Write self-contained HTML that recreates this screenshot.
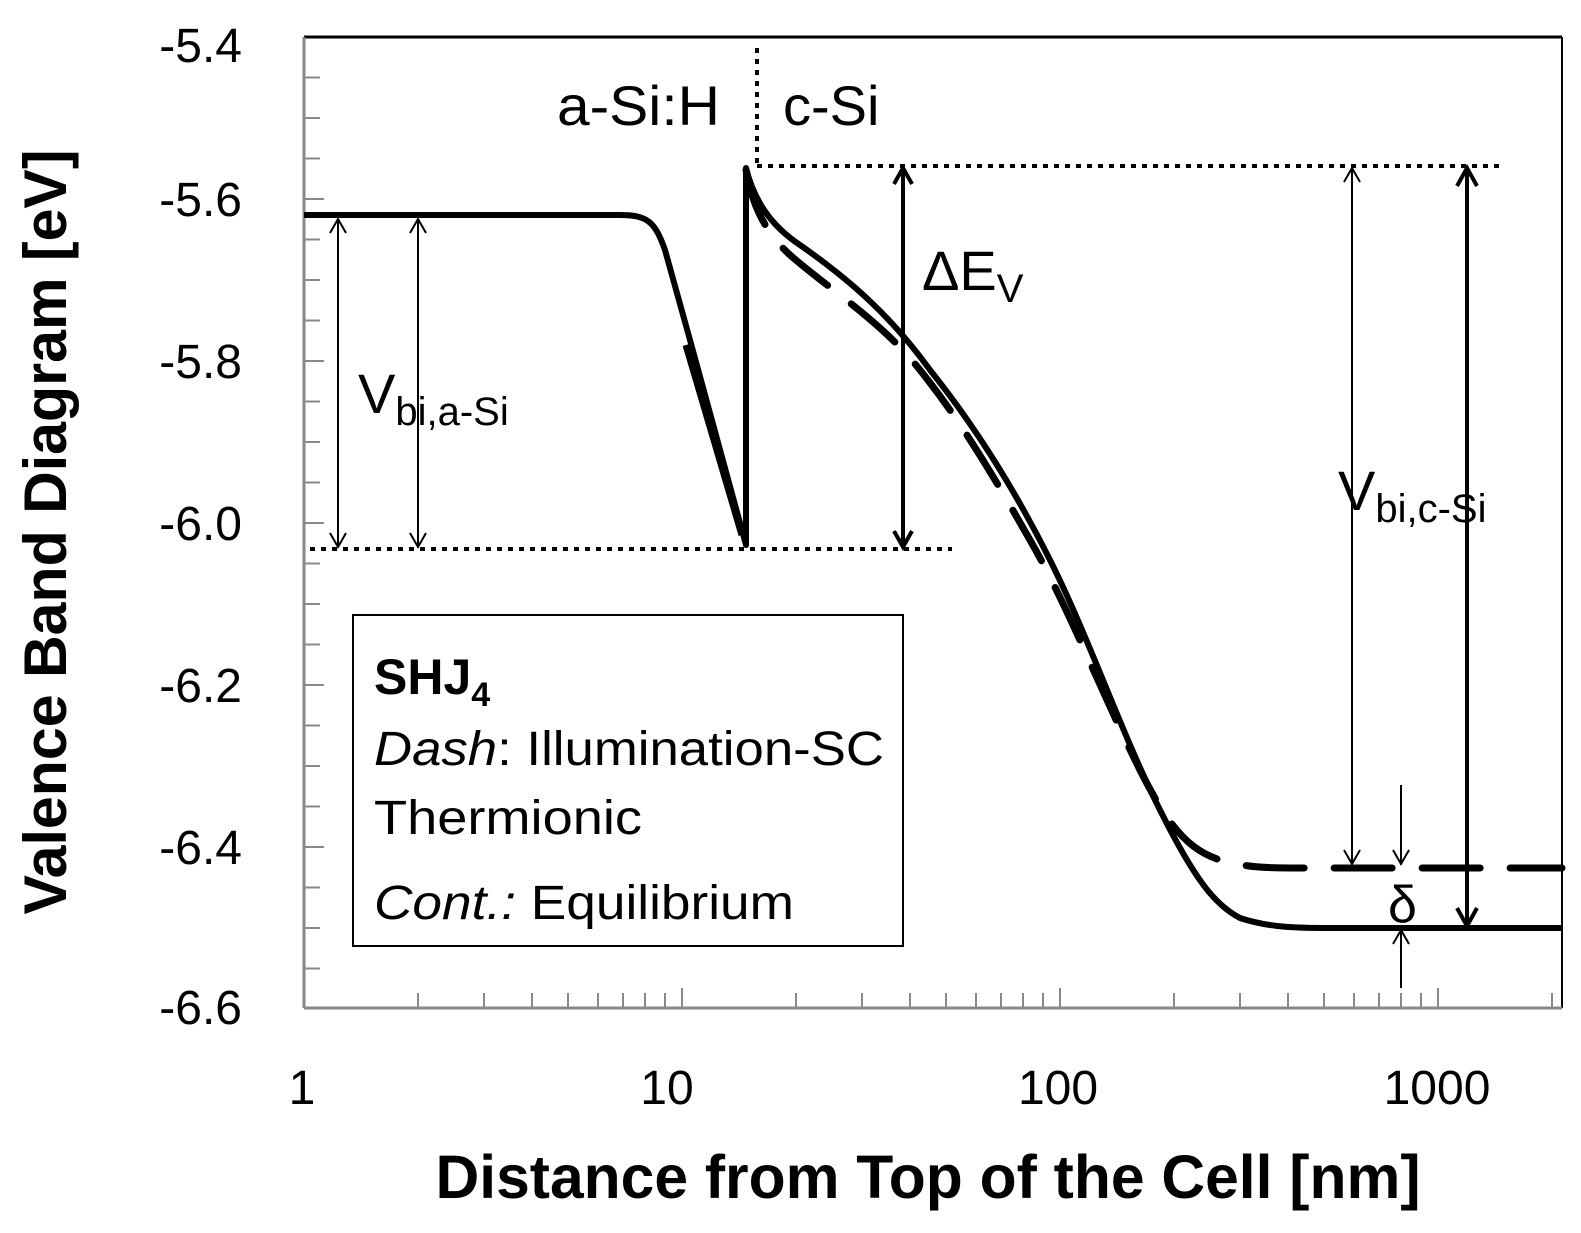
<!DOCTYPE html>
<html><head><meta charset="utf-8"><style>
html,body{margin:0;padding:0;background:#fff}
svg{display:block}
text{font-family:"Liberation Sans",sans-serif;fill:#000}
</style></head><body>
<svg width="1581" height="1233" viewBox="0 0 1581 1233" xmlns="http://www.w3.org/2000/svg">
<!-- frame -->
<line x1="304" y1="37" x2="1562" y2="37" stroke="#000" stroke-width="3"/>
<line x1="1562" y1="37" x2="1562" y2="1008" stroke="#000" stroke-width="2"/>
<line x1="304" y1="37" x2="304" y2="1008" stroke="#888" stroke-width="3"/>
<line x1="304" y1="1008" x2="1562" y2="1008" stroke="#888" stroke-width="3"/>
<!-- y ticks -->
<g stroke="#888" stroke-width="2">
<line x1="304" y1="77.5" x2="320" y2="77.5"/><line x1="304" y1="118" x2="320" y2="118"/><line x1="304" y1="158.5" x2="320" y2="158.5"/><line x1="304" y1="199" x2="324" y2="199"/>
<line x1="304" y1="239.5" x2="320" y2="239.5"/><line x1="304" y1="280" x2="320" y2="280"/><line x1="304" y1="320.5" x2="320" y2="320.5"/><line x1="304" y1="361" x2="324" y2="361"/>
<line x1="304" y1="401.5" x2="320" y2="401.5"/><line x1="304" y1="442" x2="320" y2="442"/><line x1="304" y1="482.5" x2="320" y2="482.5"/><line x1="304" y1="523" x2="324" y2="523"/>
<line x1="304" y1="563.5" x2="320" y2="563.5"/><line x1="304" y1="604" x2="320" y2="604"/><line x1="304" y1="644.5" x2="320" y2="644.5"/><line x1="304" y1="685" x2="324" y2="685"/>
<line x1="304" y1="725.5" x2="320" y2="725.5"/><line x1="304" y1="766" x2="320" y2="766"/><line x1="304" y1="806.5" x2="320" y2="806.5"/><line x1="304" y1="847" x2="324" y2="847"/>
<line x1="304" y1="887.5" x2="320" y2="887.5"/><line x1="304" y1="928" x2="320" y2="928"/><line x1="304" y1="968.5" x2="320" y2="968.5"/>
</g>
<!-- x ticks -->
<g stroke="#888" stroke-width="2">
<line x1="418" y1="1008" x2="418" y2="993"/><line x1="484" y1="1008" x2="484" y2="993"/><line x1="532" y1="1008" x2="532" y2="993"/><line x1="568" y1="1008" x2="568" y2="993"/><line x1="598" y1="1008" x2="598" y2="993"/><line x1="623" y1="1008" x2="623" y2="993"/><line x1="645" y1="1008" x2="645" y2="993"/><line x1="665" y1="1008" x2="665" y2="993"/><line x1="682" y1="1008" x2="682" y2="988"/>
<line x1="796" y1="1008" x2="796" y2="993"/><line x1="862" y1="1008" x2="862" y2="993"/><line x1="910" y1="1008" x2="910" y2="993"/><line x1="946" y1="1008" x2="946" y2="993"/><line x1="976" y1="1008" x2="976" y2="993"/><line x1="1001" y1="1008" x2="1001" y2="993"/><line x1="1023" y1="1008" x2="1023" y2="993"/><line x1="1043" y1="1008" x2="1043" y2="993"/><line x1="1060" y1="1008" x2="1060" y2="988"/>
<line x1="1174" y1="1008" x2="1174" y2="993"/><line x1="1240" y1="1008" x2="1240" y2="993"/><line x1="1288" y1="1008" x2="1288" y2="993"/><line x1="1324" y1="1008" x2="1324" y2="993"/><line x1="1354" y1="1008" x2="1354" y2="993"/><line x1="1379" y1="1008" x2="1379" y2="993"/><line x1="1401" y1="1008" x2="1401" y2="993"/><line x1="1421" y1="1008" x2="1421" y2="993"/><line x1="1438" y1="1008" x2="1438" y2="988"/>
<line x1="1552" y1="1008" x2="1552" y2="993"/>
</g>
<!-- y labels -->
<g font-size="48" text-anchor="end">
<text x="242" y="62">-5.4</text><text x="242" y="216">-5.6</text><text x="242" y="378">-5.8</text><text x="242" y="540">-6.0</text><text x="242" y="702">-6.2</text><text x="242" y="864">-6.4</text><text x="242" y="1024">-6.6</text>
</g>
<g font-size="48" text-anchor="middle">
<text x="302" y="1104">1</text><text x="667" y="1104">10</text><text x="1058" y="1104">100</text><text x="1437" y="1104">1000</text>
</g>
<text x="928" y="1198" font-size="61" font-weight="bold" text-anchor="middle" textLength="985" lengthAdjust="spacingAndGlyphs">Distance from Top of the Cell [nm]</text>
<text transform="translate(66,532) rotate(-90)" font-size="60" font-weight="bold" text-anchor="middle" textLength="765" lengthAdjust="spacingAndGlyphs">Valence Band Diagram [eV]</text>

<!-- dotted -->
<g stroke="#000" stroke-width="4" stroke-dasharray="5,6" fill="none">
<line x1="757" y1="48" x2="757" y2="166"/>
<line x1="757" y1="166" x2="1502" y2="166"/>
<line x1="310" y1="549" x2="952" y2="549"/>
</g>

<!-- solid curve -->
<path d="M304,215 L620,215 C648,215 655,222 665,250 L690,340 L746,545 L746,168 C754,200 770,225 800,245 C850,280 890,315 930,370 C970,420 1010,480 1050,560 C1090,640 1120,730 1160,810 C1195,880 1215,905 1240,918 C1270,928 1300,928 1330,928 L1562,928" fill="none" stroke="#000" stroke-width="6" stroke-linejoin="round"/>
<!-- dashed curve -->
<path d="M746,170 C752,205 765,232 790,255 C830,290 880,320 920,370 C960,420 990,470 1030,540 C1070,610 1100,690 1140,770 C1170,830 1190,850 1220,860 C1240,866 1260,868 1290,868 L1562,868" fill="none" stroke="#000" stroke-width="7" stroke-dasharray="58,30" stroke-linecap="round"/>
<path d="M686,345 L742,535" fill="none" stroke="#000" stroke-width="7"/>

<!-- arrows -->
<g stroke="#000" fill="none" stroke-width="2">
<line x1="338" y1="219" x2="338" y2="547"/><polyline points="330,233 338,219 346,233"/><polyline points="330,533 338,547 346,533"/>
<line x1="418" y1="219" x2="418" y2="547"/><polyline points="410,233 418,219 426,233"/><polyline points="410,533 418,547 426,533"/>
<line x1="1352" y1="168" x2="1352" y2="864"/><polyline points="1344,182 1352,168 1360,182"/><polyline points="1344,850 1352,864 1360,850"/>
<line x1="1401" y1="785" x2="1401" y2="864"/><polyline points="1393,850 1401,864 1409,850"/>
<line x1="1401" y1="930" x2="1401" y2="988"/><polyline points="1393,944 1401,930 1409,944"/>
</g>
<g stroke="#000" fill="none" stroke-width="4">
<line x1="903" y1="168" x2="903" y2="547"/><polyline points="894,184 903,168 912,184"/><polyline points="894,531 903,547 912,531"/>
<line x1="1467" y1="168" x2="1467" y2="926"/><polyline points="1457,186 1467,168 1477,186"/><polyline points="1457,908 1467,926 1477,908"/>
</g>

<!-- annotations -->
<text x="557" y="125" font-size="56" textLength="163" lengthAdjust="spacingAndGlyphs">a-Si:H</text>
<text x="783" y="125" font-size="56">c-Si</text>
<text x="922" y="290" font-size="56">ΔE<tspan font-size="40" dy="12">V</tspan></text>
<text x="358" y="413" font-size="56">V<tspan font-size="40" dy="12">bi,a-Si</tspan></text>
<text x="1338" y="510" font-size="56">V<tspan font-size="40" dy="12">bi,c-Si</tspan></text>
<text x="1388" y="922" font-size="52" font-family="Liberation Serif,serif">δ</text>

<!-- legend -->
<rect x="353" y="615" width="550" height="331" fill="#fff" stroke="#000" stroke-width="2"/>
<text x="374" y="694" font-size="50" font-weight="bold">SHJ<tspan font-size="34" dy="12">4</tspan></text>
<text x="374" y="765" font-size="48" textLength="510" lengthAdjust="spacingAndGlyphs"><tspan font-style="italic">Dash</tspan>: Illumination-SC</text>
<text x="374" y="834" font-size="48" textLength="268" lengthAdjust="spacingAndGlyphs">Thermionic</text>
<text x="374" y="919" font-size="48" textLength="420" lengthAdjust="spacingAndGlyphs"><tspan font-style="italic">Cont.:</tspan> Equilibrium</text>
</svg>
</body></html>
